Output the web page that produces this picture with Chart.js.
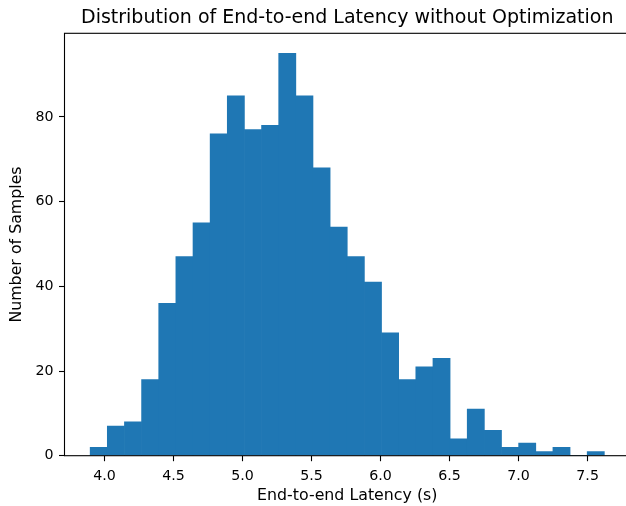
<!DOCTYPE html>
<html>
<head>
<meta charset="utf-8">
<script src="https://cdn.jsdelivr.net/npm/chart.js"></script>
<style>
  html, body { margin: 0; padding: 0; background: #fff; overflow: hidden; }
  #wrap { width: 640px; height: 506px; }
</style>
</head>
<body>
<div id="wrap"><canvas id="hist" width="640" height="506"></canvas></div>
<script>
// histogram of end-to-end latency, 30 equal bins
const binStart = 3.896;
const binWidth = 0.12417;
const counts = [2, 7, 8, 18, 36, 47, 55, 76, 85, 77, 78, 95, 85, 68, 54,
                47, 41, 29, 18, 21, 23, 4, 11, 6, 2, 3, 1, 2, 0, 1];
const xTicks = [4.0, 4.5, 5.0, 5.5, 6.0, 6.5, 7.0, 7.5];
const yTicks = [0, 20, 40, 60, 80];
const titleText = 'Distribution of End-to-end Latency without Optimization';

const xMin = 3.710, xMax = 7.807;
const yMax = 99.75;

const points = counts.map((c, i) => ({ x: binStart + binWidth * (i + 0.5), y: c }));

const FONT = "'DejaVu Sans', sans-serif";

// axes frame on top of the bars, title centred over the axes
const frame = {
  id: 'frame',
  afterDatasetsDraw(chart) {
    const a = chart.chartArea;
    const ctx = chart.ctx;
    ctx.save();
    ctx.strokeStyle = '#000';
    ctx.lineWidth = 1.1;
    ctx.strokeRect(a.left, a.top, a.right - a.left, a.bottom - a.top);
    ctx.fillStyle = '#000';
    ctx.font = '19px ' + FONT;
    ctx.textAlign = 'center';
    ctx.textBaseline = 'alphabetic';
    ctx.fillText(titleText, (a.left + a.right) / 2, 23);
    ctx.restore();
  }
};

const axisGrid = {
  offset: false,
  drawOnChartArea: false,
  drawTicks: true,
  tickLength: 5.5,
  tickColor: '#000',
  tickWidth: 1.1
};

new Chart(document.getElementById('hist'), {
  type: 'bar',
  data: {
    datasets: [{
      data: points,
      backgroundColor: '#1f77b4',
      borderWidth: 0,
      barPercentage: 1.0,
      categoryPercentage: 1.0
    }]
  },
  options: {
    responsive: false,
    animation: false,
    devicePixelRatio: 1,
    layout: { padding: { left: 0, right: 10, top: 33.3, bottom: 0 } },
    plugins: {
      legend: { display: false },
      tooltip: { enabled: false },
      title: { display: false }
    },
    scales: {
      x: {
        type: 'linear',
        min: xMin,
        max: xMax,
        offset: false,
        afterFit(scale) { scale.height = 50.3; },
        afterBuildTicks(scale) { scale.ticks = xTicks.map(v => ({ value: v })); },
        ticks: {
          color: '#000',
          font: { family: FONT, size: 14.2 },
          padding: 6.3,
          maxRotation: 0,
          autoSkip: false,
          callback: v => v.toFixed(1)
        },
        grid: axisGrid,
        border: { display: false },
        title: {
          display: true,
          text: 'End-to-end Latency (s)',
          color: '#000',
          font: { family: FONT, size: 15.8 },
          padding: { top: 0, bottom: 0.7 }
        }
      },
      y: {
        min: 0,
        max: yMax,
        afterFit(scale) { scale.width = 64.5; },
        afterBuildTicks(scale) { scale.ticks = yTicks.map(v => ({ value: v })); },
        ticks: {
          color: '#000',
          font: { family: FONT, size: 14.2 },
          padding: 5.5
        },
        grid: axisGrid,
        border: { display: false },
        title: {
          display: true,
          text: 'Number of Samples',
          color: '#000',
          font: { family: FONT, size: 15.8 },
          padding: { top: 7.5, bottom: 0 }
        }
      }
    }
  },
  plugins: [frame]
});
</script>
</body>
</html>
